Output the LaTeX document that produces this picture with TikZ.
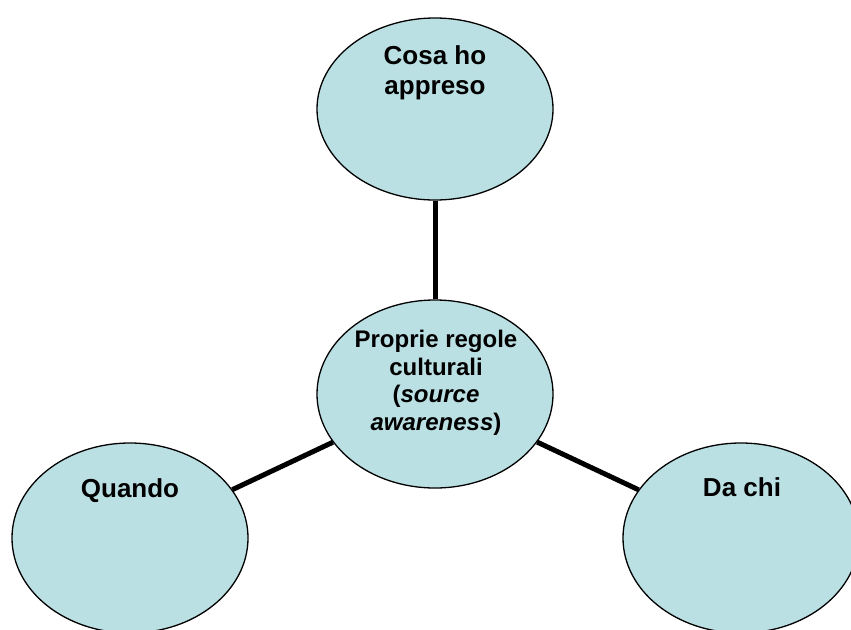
\documentclass[tikz,border=0pt]{standalone}
\usepackage{fontspec}
\setmainfont{Liberation Sans}
\usetikzlibrary{shapes.geometric}
\definecolor{bubble}{RGB}{187,224,227}
\tikzset{
  bubble/.style={ellipse, draw=black, line width=1.3pt, fill=bubble, inner sep=0pt, minimum width=236pt},
  link/.style={line width=5pt, draw=black},
  txt/.style={font=\fontsize{24}{27.5}\selectfont\bfseries, align=center, inner sep=0pt, anchor=base},
  bigtxt/.style={txt, font=\fontsize{26}{30}\selectfont\bfseries}
}
\begin{document}
\begin{tikzpicture}[x=1pt,y=-1pt]
\clip (0,0) rectangle (851,629);
\useasboundingbox (0,0) rectangle (851,629);
\fill[white] (0,0) rectangle (851,629);
\node[bubble, minimum height=182pt] (top) at (435,109) {};
\node[bubble, minimum height=188pt] (mid) at (435,394) {};
\node[bubble, minimum height=190pt] (left) at (130,538) {};
\node[bubble, minimum height=190pt] (right) at (741,538) {};
\draw[link] (top) -- (mid);
\draw[link] (mid) -- (left);
\draw[link] (mid) -- (right);
\node[bigtxt] (ttop) at (435,94) {Cosa ho\\appreso};
\node[txt] (tmid) at (436,430) {Proprie regole\\culturali\\(\textit{source}\\\textit{awareness})};
\node[bigtxt] (tleft) at (130,497) {Quando};
\node[bigtxt] (tright) at (742,496) {Da chi};
\end{tikzpicture}
\end{document}
